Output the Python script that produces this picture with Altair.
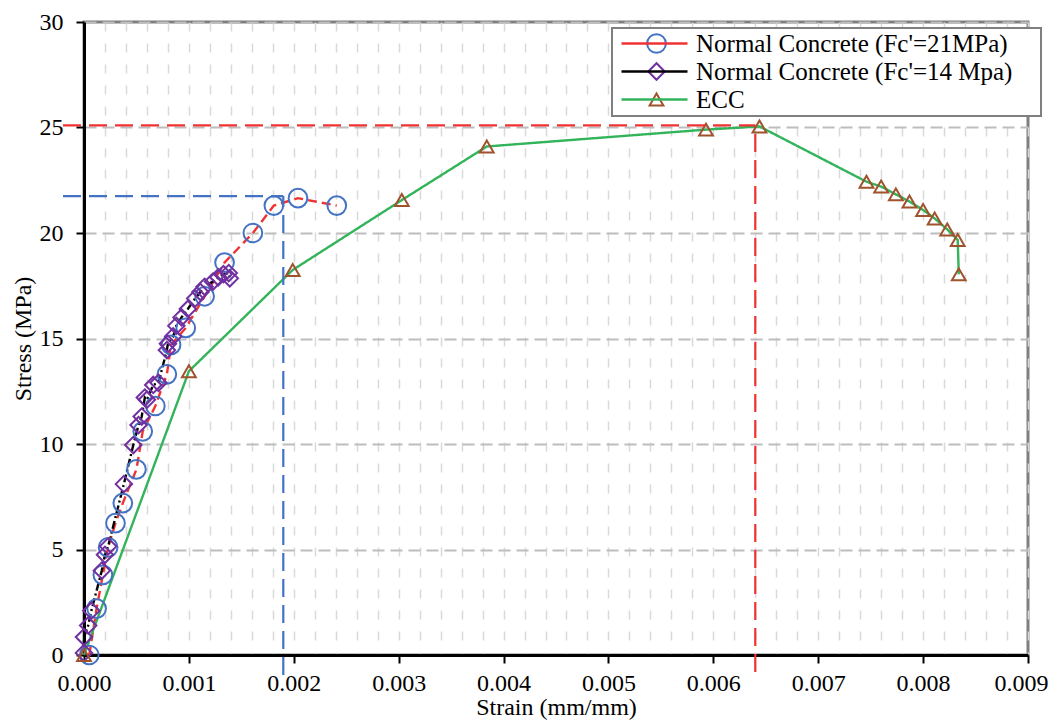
import altair as alt
import pandas as pd

FONT = "Liberation Serif"

names = ["Normal Concrete (Fc'=21MPa)", "Normal Concrete (Fc'=14 Mpa)", "ECC"]
marker_keys = ["_" + n for n in names]

# Normal Concrete Fc'=21 MPa
nc21_strain = [0.00005, 0.00012, 0.00018, 0.00023, 0.00030, 0.00037, 0.00050, 0.00056,
               0.00068, 0.00079, 0.00083, 0.00097, 0.00115, 0.00134, 0.00161, 0.00181,
               0.00204, 0.00241]
nc21_stress = [0.0, 2.2, 3.8, 5.1, 6.25, 7.2, 8.8, 10.6, 11.8, 13.3, 14.7, 15.5, 17.0,
               18.6, 20.0, 21.3, 21.65, 21.3]

# Normal Concrete Fc'=14 MPa
nc14_strain = [0.00000, 0.00000, 0.00004, 0.00007, 0.00017, 0.00020, 0.00023, 0.00038,
               0.00047, 0.00052, 0.00055, 0.00058, 0.00060, 0.00066, 0.00071, 0.00079,
               0.00080, 0.00085, 0.00088, 0.00093, 0.00099, 0.00106, 0.00111, 0.00115,
               0.00123, 0.00128, 0.00133, 0.00138, 0.00139]
nc14_stress = [0.1, 0.85, 1.4, 2.1, 4.0, 4.75, 5.15, 8.1, 9.95, 10.9, 11.3, 12.2, 12.1,
               12.8, 12.9, 14.45, 14.75, 15.1, 15.6, 16.0, 16.4, 16.9, 17.2, 17.45, 17.7,
               17.9, 18.05, 18.1, 17.85]

# ECC
ecc_strain = [0.0, 0.00100, 0.00199, 0.00303, 0.00384, 0.00593, 0.00644, 0.00746,
              0.00760, 0.00774, 0.00787, 0.00800, 0.00811, 0.00823, 0.00833, 0.00834]
ecc_stress = [0.0, 13.45, 18.25, 21.56, 24.1, 24.9, 25.05, 22.43, 22.2, 21.83, 21.49,
              21.09, 20.69, 20.17, 19.67, 18.04]

# Reference (peak) lines
ref_colors = ["#f03232", "#4472c4"]
ref_peak_strain = [0.0064, 0.0019]
ref_peak_stress = [25.1, 21.75]
ref_x_start = [-0.0002, -0.0002]
ref_y_end = [-0.8, -0.95]

x_minor = [round(i * 0.0002, 4) for i in range(46)]
y_ticks = [0, 5, 10, 15, 20, 25, 30]

rows = []
for s, (xs, ys) in enumerate([(nc21_strain, nc21_stress), (nc14_strain, nc14_stress),
                              (ecc_strain, ecc_stress)]):
    for i, (a, b) in enumerate(zip(xs, ys)):
        rows.append({"strain": a, "stress": b, "series": names[s],
                     "mk": marker_keys[s], "idx": i})
df = pd.DataFrame(rows)

ref_df = pd.DataFrame({"color": ref_colors, "px": ref_peak_strain, "py": ref_peak_stress,
                       "x0": ref_x_start, "y0": ref_y_end})

is_major = "abs(datum.value*1000 - round(datum.value*1000)) < 1e-6"
is_last = "datum.value > 0.0089"

x_scale = alt.Scale(domain=[0, 0.009], nice=False, zero=False)
y_scale = alt.Scale(domain=[0, 30], nice=False)

x_axis = alt.Axis(values=x_minor, title="Strain (mm/mm)",
                  labelExpr=f"{is_major} ? format(datum.value, '.3f') : ''",
                  labelOverlap=False, labelFlush=False, labelFont=FONT, titleFont=FONT,
                  labelFontSize=24, titleFontSize=24,
                  labelAlign={"condition": {"test": is_last, "value": "right"}, "value": "center"},
                  labelOffset={"condition": {"test": is_last, "value": 20}, "value": 0},
                  tickOpacity={"condition": {"test": is_major, "value": 1}, "value": 0},
                  grid=True, gridColor="#d9d9d9", gridDash=[9, 12], gridWidth=1.5,
                  labelPadding=8, titlePadding=0)
y_axis = alt.Axis(values=y_ticks, title="Stress (MPa)", labelFlush=False,
                  labelOverlap=False, labelFont=FONT, titleFont=FONT,
                  labelFontSize=24, titleFontSize=24,
                  grid=True, gridColor="#bdbdbd", gridDash=[12, 6], gridWidth=1.8,
                  labelPadding=13, titlePadding=4)

line_legend = alt.Legend(title=None, orient="none", legendX=528, legendY=6,
                         symbolType="M-3,0L3,0", symbolSize=484,
                         symbolStrokeWidth=2.4, labelFont=FONT,
                         labelFontSize=25, labelColor="#000000",
                         labelLimit=450, rowPadding=2, padding=3,
                         symbolOffset=27, labelOffset=29)

mk_legend = alt.Legend(title=None, orient="none", legendX=528, legendY=6,
                       labelFont=FONT, labelFontSize=25, labelOpacity=0,
                       labelExpr="slice(datum.label, 1) + 'iii'", labelLimit=450,
                       rowPadding=2, padding=3, symbolOffset=29, labelOffset=31,
                       symbolStrokeWidth=2, symbolFillColor="transparent",
                       strokeColor="#7f7f7f", fillColor="#ffffff")

base = alt.Chart(df)

lines = base.mark_line(strokeWidth=2.4).encode(
    x=alt.X("strain:Q", scale=x_scale, axis=x_axis),
    y=alt.Y("stress:Q", scale=y_scale, axis=y_axis),
    color=alt.Color("series:N", scale=alt.Scale(domain=names,
                    range=["#f03232", "#000000", "#33b35a"]), legend=line_legend),
    strokeDash=alt.StrokeDash("series:N", scale=alt.Scale(domain=names,
                              range=[[9, 5], [8, 3, 2, 3], [1, 0]]), legend=line_legend),
    order="idx:Q",
)

points = base.mark_point(filled=False, strokeWidth=2, opacity=1).encode(
    x=alt.X("strain:Q", scale=x_scale, axis=x_axis),
    y=alt.Y("stress:Q", scale=y_scale, axis=y_axis),
    shape=alt.Shape("mk:N", scale=alt.Scale(domain=marker_keys,
                    range=["circle", "diamond", "triangle-up"]), legend=mk_legend),
    stroke=alt.Stroke("mk:N", scale=alt.Scale(domain=marker_keys,
                      range=["#4472c4", "#7030a0", "#a0522d"]), legend=mk_legend),
    size=alt.Size("mk:N", scale=alt.Scale(domain=marker_keys, range=[350, 190, 420]),
                  legend=mk_legend),
)

ref_h = alt.Chart(ref_df).mark_rule(strokeWidth=2.2, strokeDash=[18, 8]).encode(
    x=alt.X("x0:Q", scale=x_scale, axis=x_axis), x2="px:Q",
    y=alt.Y("py:Q", scale=y_scale, axis=y_axis),
    color=alt.Color("color:N", scale=None),
)
ref_v = alt.Chart(ref_df).mark_rule(strokeWidth=2.2, strokeDash=[18, 8]).encode(
    x=alt.X("px:Q", scale=x_scale, axis=x_axis),
    y=alt.Y("y0:Q", scale=y_scale, axis=y_axis), y2="py:Q",
    color=alt.Color("color:N", scale=None),
)

chart = alt.layer(lines, points, ref_h, ref_v).resolve_scale(
    color="independent"
).properties(
    width=944, height=633,
    autosize=alt.AutoSizeParams(type="none"),
    padding={"left": 76, "top": 14, "right": 21, "bottom": 66},
).configure_view(
    stroke="#7f7f7f", strokeWidth=3
).configure_axis(
    labelColor="#000000", titleColor="#000000", titleFontWeight="normal",
    domainColor="#000000", domainWidth=3, tickColor="#000000", tickWidth=2, tickSize=8,
    zindex=1,
).configure_legend(
    strokeWidth=2,
)

chart.save("out.html", embed_options={"renderer": "svg", "actions": False})
